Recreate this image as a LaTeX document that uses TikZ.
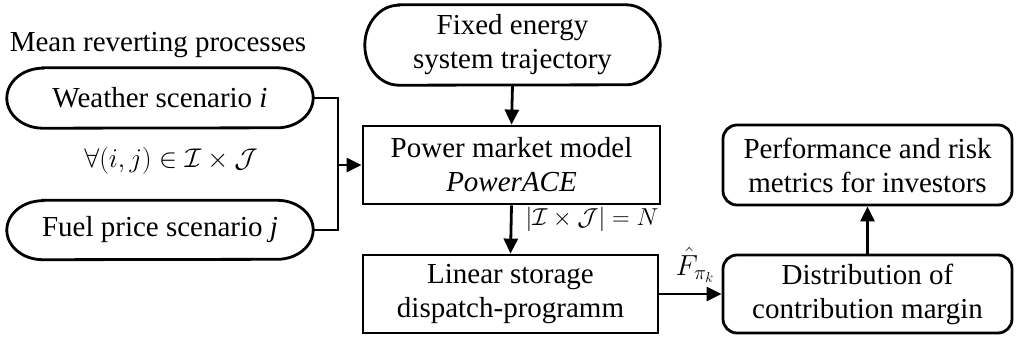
\documentclass[tikz,border=0pt]{standalone}
\usepackage{fix-cm}
\usepackage{fontspec}
\setmainfont{Liberation Serif}
\usetikzlibrary{arrows.meta}
\tikzset{
  txt/.style={font=\fontsize{29}{34}\selectfont, align=center, inner sep=0pt},
  mth/.style={font=\fontsize{27}{32}\selectfont, inner sep=0pt, text=black},
  ovalnode/.style={txt, draw=none},
  boxnode/.style={txt, draw, line width=2.8pt},
  rboxnode/.style={txt, draw, line width=2.8pt, rounded corners=14pt},
  conn/.style={line width=2.8pt},
  arr/.style={conn, -{Triangle[length=15pt,width=14pt]}},
}
\newcommand{\stadiumdraw}[3]{% name, rx, ry
  \draw[line width=2.8pt] ([xshift=#2]#1.north west) -- ([xshift=-#2]#1.north east)
    arc[start angle=90,end angle=-90,x radius=#2,y radius=#3]
    -- ([xshift=#2]#1.south west)
    arc[start angle=270,end angle=90,x radius=#2,y radius=#3] -- cycle;}
\begin{document}
\begin{tikzpicture}[x=1pt,y=-1pt]
\useasboundingbox (0,0) rectangle (1016,340);

\node[txt] (mean) at (158,45) {Mean reverting processes};

\node[ovalnode, minimum width=306pt, minimum height=60pt] (weather) at (160,98) {Weather scenario \textit{i}};
\stadiumdraw{weather}{36pt}{30pt}
\node[ovalnode, minimum width=306pt, minimum height=59pt] (fuel) at (160,230) {Fuel price scenario \textit{j}};
\stadiumdraw{fuel}{36pt}{29.5pt}

\node[mth] (forall) at (171,161) {$\forall(i,j)\in\mathcal{I}\times\mathcal{J}$};

\node[ovalnode, minimum width=295pt, minimum height=80pt] (fixed) at (512.5,45) {Fixed energy\\system trajectory};
\stadiumdraw{fixed}{34pt}{40pt}

\node[boxnode, minimum width=297pt, minimum height=78pt] (power) at (511.5,165) {Power market model\\\textit{PowerACE}};
\node[boxnode, minimum width=295pt, minimum height=78pt] (linear) at (510.5,294) {Linear storage\\dispatch-programm};

\node[rboxnode, minimum width=289pt, minimum height=80pt] (perf) at (867.5,165) {Performance and risk\\metrics for investors};
\node[rboxnode, minimum width=289pt, minimum height=78pt] (dist) at (867.5,294) {Distribution of\\contribution margin};

\coordinate (jt) at (338,98);
\coordinate (jb) at (338,230);
\coordinate (jm) at (338,165);

\draw[conn] (weather.east) -- (jt) -- (jb) -- (fuel.east);
\draw[arr] (jm) -- (power.west);
\draw[arr] (fixed.south) -- (power.north);
\draw[arr] (power.south) -- (linear.north);
\draw[arr] (linear.east) -- (dist.west);
\draw[arr] (dist.north) -- (perf.south);

\node[mth, font=\fontsize{24.5}{28}\selectfont] (card) at (592,219) {$|\mathcal{I}\times\mathcal{J}|=N$};
\node[mth, font=\fontsize{29}{34}\selectfont] (fhat) at (695,265) {$\hat{F}_{\pi_k}$};
\end{tikzpicture}
\end{document}
